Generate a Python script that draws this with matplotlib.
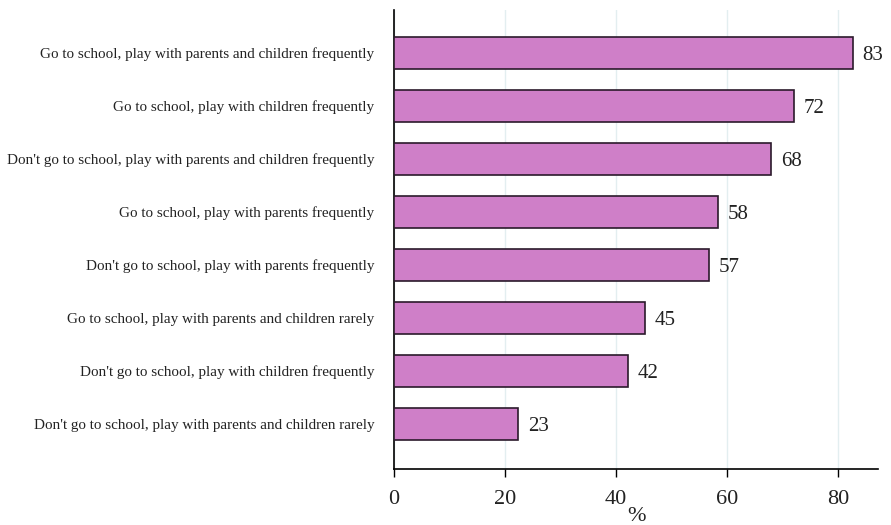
import matplotlib.pyplot as plt

categories = [
    "Go to school, play with parents and children frequently",
    "Go to school, play with children frequently",
    "Don't go to school, play with parents and children frequently",
    "Go to school, play with parents frequently",
    "Don't go to school, play with parents frequently",
    "Go to school, play with parents and children rarely",
    "Don't go to school, play with children frequently",
    "Don't go to school, play with parents and children rarely",
]
values = [82.6, 72, 68, 58.4, 56.8, 45.2, 42.1, 22.4]
labels = ["83", "72", "68", "58", "57", "45", "42", "23"]
xticks = [0, 20, 40, 60, 80]

plt.rcParams['font.family'] = ['Liberation Serif', 'DejaVu Serif']

fig = plt.figure(figsize=(8.91, 5.25), dpi=100)
ax = fig.add_axes([0.4422, 0.1067, 0.5433, 0.8743])

pos = list(range(len(categories)))
ax.barh(pos, values, height=0.6, color="#cf7fc8", edgecolor="#2b1a2b", linewidth=1.2, zorder=3)
for p, v, lab in zip(pos, values, labels):
    ax.text(v + 1.7, p + 0.05, lab, va="center", ha="left", fontsize=15, color="#222222")

ax.set_ylim(7.85, -0.81)
ax.set_xlim(0, 87.2)
ax.set_yticks(pos)
ax.set_yticklabels(categories, fontsize=10.9, color="#222222")
ax.tick_params(axis="y", length=0, pad=14)
ax.set_xticks(xticks)
ax.set_xticklabels([str(t) for t in xticks], fontsize=16, color="#222222")
ax.tick_params(axis="x", length=6, width=1, pad=9)
ax.set_xlabel("%", fontsize=16, labelpad=-1, color="#222222")
ax.grid(axis="x", color="#e3eef0", linewidth=1, zorder=0)
for side in ["top", "right"]:
    ax.spines[side].set_visible(False)
ax.spines["left"].set_linewidth(1.2)
ax.spines["bottom"].set_linewidth(1.2)

fig.savefig("out.png", dpi=100)
